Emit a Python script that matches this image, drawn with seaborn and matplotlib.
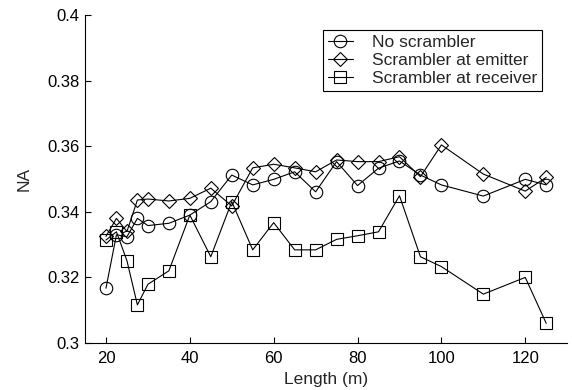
import numpy as np
import seaborn as sns
import matplotlib.pyplot as plt
from matplotlib.ticker import FormatStrFormatter

# Length (m)
length = [20, 22.5, 25, 27.5, 30, 35, 40, 45, 50, 55, 60, 65, 70, 75, 80, 85, 90, 95, 100, 110, 120, 125]

# NA values
no_scrambler = [0.3167, 0.3330, 0.3324, 0.3380, 0.3358, 0.3365, 0.3390, 0.3431, 0.3512, 0.3482, 0.3499,
                0.3522, 0.3461, 0.3553, 0.3480, 0.3533, 0.3555, 0.3512, 0.3482, 0.3448, 0.3499, 0.3482]
at_emitter = [0.3325, 0.3380, 0.3340, 0.3436, 0.3439, 0.3433, 0.3441, 0.3472, 0.3418, 0.3534, 0.3545,
              0.3534, 0.3522, 0.3558, 0.3553, 0.3553, 0.3568, 0.3507, 0.3604, 0.3515, 0.3463, 0.3505]
at_receiver = [0.3314, 0.3339, 0.3251, 0.3116, 0.3179, 0.3220, 0.3390, 0.3263, 0.3431, 0.3284, 0.3367,
               0.3284, 0.3284, 0.3316, 0.3327, 0.3339, 0.3449, 0.3263, 0.3233, 0.3149, 0.3200, 0.3060]

series = [("No scrambler", no_scrambler, "o", 9),
          ("Scrambler at emitter", at_emitter, "D", 7),
          ("Scrambler at receiver", at_receiver, "s", 8)]

sns.set_style("ticks")
plt.rcParams['font.family'] = ['Liberation Sans', 'DejaVu Sans']
plt.rcParams['xtick.direction'] = 'in'
plt.rcParams['ytick.direction'] = 'in'

fig = plt.figure(figsize=(5.72, 3.9), dpi=100)
ax = fig.add_axes([0.1486, 0.1205, 0.843, 0.841])

for name, vals, mk, ms in series:
    sns.lineplot(x=length, y=vals, ax=ax, color="black", lw=0.8, marker=mk, ms=ms,
                 mfc="none", mec="black", mew=0.8, label=name)

ax.set_xlim(15, 130)
ax.set_ylim(0.3, 0.4)
ax.set_xticks(np.arange(20, 121, 20))
ax.set_yticks(np.arange(0.3, 0.401, 0.02))
ax.yaxis.set_major_formatter(FormatStrFormatter('%g'))
ax.tick_params(labelsize=12, length=4, width=0.8, colors="black")
ax.tick_params(axis="x", pad=6)
ax.tick_params(axis="y", pad=4)
ax.set_xlabel("Length (m)", fontsize=12.5, labelpad=4)
ax.set_ylabel("NA", fontsize=12.5, labelpad=11)
for s in ["left", "bottom"]:
    ax.spines[s].set_linewidth(0.8)
    ax.spines[s].set_color("black")
sns.despine(ax=ax)

leg = ax.legend(loc="upper right", bbox_to_anchor=(0.948, 0.955), borderaxespad=0, fontsize=12.5,
                fancybox=False, edgecolor="black", framealpha=1, handlelength=1.4, borderpad=0.3,
                labelspacing=0.15, handletextpad=1.1)
leg.get_frame().set_linewidth(0.8)

fig.savefig("out.png", dpi=100)
